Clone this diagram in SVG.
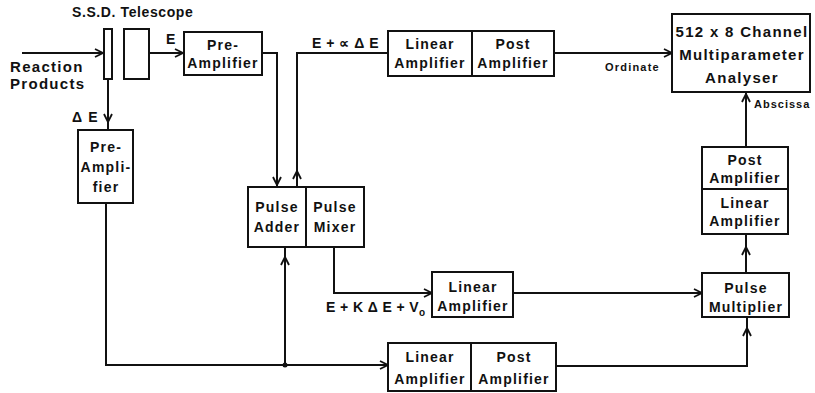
<svg xmlns="http://www.w3.org/2000/svg" width="815" height="393" viewBox="0 0 815 393">
<defs>
<marker id="arr" viewBox="0 0 10 10" refX="9" refY="5" markerWidth="10" markerHeight="10" markerUnits="userSpaceOnUse" orient="auto">
<path d="M1,1 L9,5 L1,9" fill="none" stroke="#111" stroke-width="1.8"/>
</marker>
<style>
.box{fill:#fff;stroke:#111;stroke-width:2}
.ln{fill:none;stroke:#111;stroke-width:2}
.w{stroke:#111;stroke-width:2;fill:none}
text{font-family:"Liberation Sans",Arial,sans-serif;font-weight:bold;fill:#111}
.t{font-size:14px;letter-spacing:1.2px;text-anchor:middle}
.l{font-size:14px;letter-spacing:1.2px}
.big{font-size:15px;letter-spacing:1.3px}
.s{font-size:11px;letter-spacing:1.2px}
</style>
</defs>
<rect width="815" height="393" fill="#fff"/>

<g id="labels">
<text class="l" x="72" y="17" style="letter-spacing:0.6px">S.S.D. Telescope</text>
<text class="big" x="10" y="72">Reaction</text>
<text class="big" x="10" y="89">Products</text>
<text class="l" x="166" y="44">E</text>
<text class="l" x="72" y="122">Δ E</text>
<text class="l" x="312" y="48" style="letter-spacing:0.5px">E + ∝ Δ E</text>
<text class="s" x="605" y="71">Ordinate</text>
<text class="s" x="754" y="108" style="letter-spacing:1px">Abscissa</text>
<text class="l" x="326" y="312" style="letter-spacing:0.4px">E + K Δ E + V<tspan font-size="10" dy="4">o</tspan></text>
</g>

<g id="telescope">
<rect class="box" x="104" y="29" width="8" height="50"/>
<rect class="box" x="124" y="29" width="25" height="50"/>
</g>

<g id="preamp1">
<rect class="box" x="184" y="32" width="78" height="43"/>
<text class="t" x="223" y="50">Pre-</text>
<text class="t" x="223" y="68">Amplifier</text>
</g>

<g id="preamp2">
<rect class="box" x="78" y="130" width="55" height="73"/>
<text class="t" x="106" y="152">Pre-</text>
<text class="t" x="106" y="172">Ampli-</text>
<text class="t" x="106" y="192">fier</text>
</g>

<g id="pulse-adder-mixer">
<rect class="box" x="248" y="187" width="116" height="60"/>
<line class="w" x1="306" y1="187" x2="306" y2="247"/>
<text class="t" x="277" y="212">Pulse</text>
<text class="t" x="277" y="232">Adder</text>
<text class="t" x="335" y="212">Pulse</text>
<text class="t" x="335" y="232">Mixer</text>
</g>

<g id="linpost-top">
<rect class="box" x="388" y="31" width="166" height="45"/>
<line class="w" x1="472" y1="31" x2="472" y2="76"/>
<text class="t" x="430" y="49">Linear</text>
<text class="t" x="430" y="68">Amplifier</text>
<text class="t" x="513" y="49">Post</text>
<text class="t" x="513" y="68">Amplifier</text>
</g>

<g id="analyser">
<rect class="box" x="672" y="14" width="138" height="78"/>
<text class="big" x="742" y="37" text-anchor="middle">512 x 8 Channel</text>
<text class="big" x="742" y="60" text-anchor="middle">Multiparameter</text>
<text class="big" x="742" y="83" text-anchor="middle">Analyser</text>
</g>

<g id="postlin-right">
<rect class="box" x="702" y="147" width="86" height="87"/>
<line class="w" x1="702" y1="189" x2="788" y2="189"/>
<text class="t" x="745" y="165">Post</text>
<text class="t" x="745" y="183">Amplifier</text>
<text class="t" x="745" y="208">Linear</text>
<text class="t" x="745" y="226">Amplifier</text>
</g>

<g id="pulse-multiplier">
<rect class="box" x="702" y="273" width="87" height="44"/>
<text class="t" x="746" y="293">Pulse</text>
<text class="t" x="746" y="312">Multiplier</text>
</g>

<g id="linamp-mid">
<rect class="box" x="432" y="272" width="81" height="45"/>
<text class="t" x="473" y="292">Linear</text>
<text class="t" x="473" y="311">Amplifier</text>
</g>

<g id="linpost-bottom">
<rect class="box" x="388" y="343" width="168" height="48"/>
<line class="w" x1="471" y1="343" x2="471" y2="391"/>
<text class="t" x="430" y="362">Linear</text>
<text class="t" x="430" y="384">Amplifier</text>
<text class="t" x="514" y="362">Post</text>
<text class="t" x="514" y="384">Amplifier</text>
</g>

<g id="connectors">
<line class="ln" x1="22" y1="53" x2="103" y2="53" marker-end="url(#arr)"/>
<line class="ln" x1="150" y1="53" x2="183" y2="53" marker-end="url(#arr)"/>
<line class="ln" x1="108" y1="79" x2="108" y2="130"/>
<line class="ln" x1="108" y1="100" x2="108" y2="122" marker-end="url(#arr)"/>
<polyline class="ln" points="262,53 277,53 277,187"/>
<line class="ln" x1="277" y1="160" x2="277" y2="185" marker-end="url(#arr)"/>
<polyline class="ln" points="297,187 297,53 388,53"/>
<line class="ln" x1="297" y1="187" x2="297" y2="171" marker-end="url(#arr)"/>
<line class="ln" x1="554" y1="53" x2="672" y2="53" marker-end="url(#arr)"/>
<polyline class="ln" points="106,203 106,365 388,365" marker-end="url(#arr)"/>
<line class="ln" x1="285" y1="365" x2="285" y2="247"/>
<line class="ln" x1="285" y1="280" x2="285" y2="257" marker-end="url(#arr)"/>
<circle cx="285" cy="365" r="2.5" fill="#111"/>
<polyline class="ln" points="334,247 334,293 432,293" marker-end="url(#arr)"/>
<line class="ln" x1="513" y1="293" x2="702" y2="293" marker-end="url(#arr)"/>
<polyline class="ln" points="556,366 747,366 747,317"/>
<line class="ln" x1="747" y1="345" x2="747" y2="328" marker-end="url(#arr)"/>
<line class="ln" x1="746" y1="273" x2="746" y2="234"/>
<line class="ln" x1="746" y1="265" x2="746" y2="247" marker-end="url(#arr)"/>
<line class="ln" x1="746" y1="147" x2="746" y2="92"/>
<line class="ln" x1="746" y1="115" x2="746" y2="94" marker-end="url(#arr)"/>
</g>
</svg>
